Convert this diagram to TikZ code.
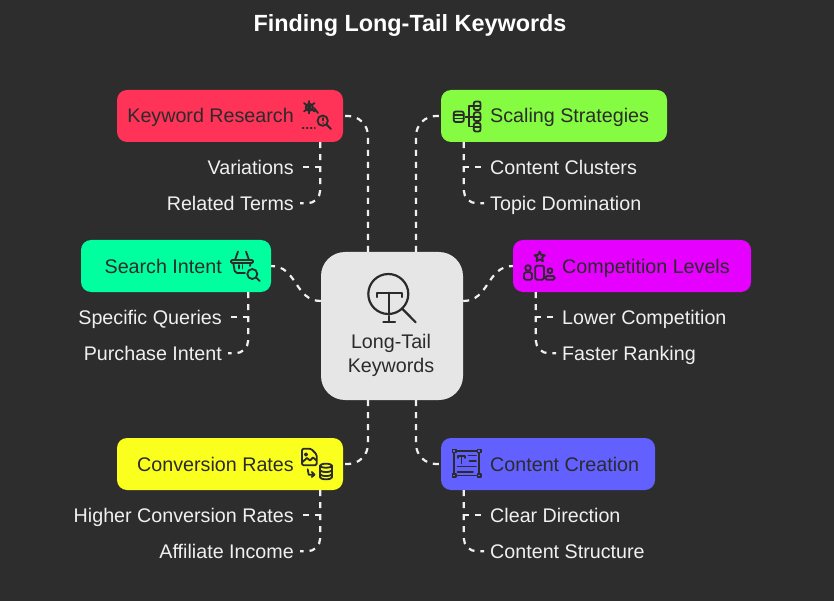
\documentclass[tikz,border=0pt]{standalone}
\usepackage{fontspec}
\setmainfont{Liberation Sans}
\definecolor{bgc}{HTML}{2D2D2D}
\definecolor{inkc}{HTML}{2B2B2B}
\definecolor{paleC}{HTML}{F0F0F0}
\definecolor{hubc}{HTML}{E6E6E6}
\definecolor{redc}{HTML}{FF3358}
\definecolor{limec}{HTML}{85FB41}
\definecolor{mintc}{HTML}{00FF9F}
\definecolor{magc}{HTML}{E600FF}
\definecolor{yelc}{HTML}{FAFF1E}
\definecolor{bluc}{HTML}{6260FF}
\begin{document}
\begin{tikzpicture}[x=1pt,y=-1pt,topic/.style={shape=rectangle,rounded corners=10pt,minimum height=52pt,inner sep=0pt},toptxt/.style={text=inkc,font=\fontsize{19.7}{24}\selectfont,inner sep=0pt,text height=14pt,text depth=0pt},leaf/.style={text=paleC,font=\fontsize{19.7}{24}\selectfont,inner ysep=0pt,inner xsep=6pt,text height=14pt,text depth=0pt},link/.style={draw=paleC,line width=2.2pt,dash pattern=on 6pt off 6pt},linkL/.style={link,rounded corners=20pt},linkS/.style={link,rounded corners=13pt},glyph/.style={draw=inkc,line width=1.8pt,line cap=round,line join=round}]
\fill[bgc] (0,0) rectangle (834,601);

\node[font=\bfseries\fontsize{23.4}{28}\selectfont,text=white,inner sep=0pt] (title) at (410,26) {Finding Long-Tail Keywords};

\node[shape=rectangle,rounded corners=24pt,fill=hubc,minimum width=142pt,minimum height=148pt] (hub) at (392,326) {};
\node[text=inkc,font=\fontsize{19.7}{24}\selectfont,align=center,inner sep=0pt] (hubtxt) at (391,355) {Long-Tail\\Keywords};

\node[topic,fill=redc,minimum width=226pt] (kw) at (230,116) {};
\node[toptxt,anchor=east] (kwtxt) at (294,116) {Keyword Research};
\node[leaf,anchor=east] (var) at (300,167.3) {Variations};
\node[leaf,anchor=east] (rel) at (300,203.3) {Related Terms};

\node[topic,fill=limec,minimum width=226pt] (sc) at (554,116) {};
\node[toptxt,anchor=west] (sctxt) at (490,116) {Scaling Strategies};
\node[leaf,anchor=west] (clu) at (484,167.3) {Content Clusters};
\node[leaf,anchor=west] (dom) at (484,203.3) {Topic Domination};

\node[topic,fill=mintc,minimum width=190pt] (si) at (176,266) {};
\node[toptxt,anchor=east] (sitxt) at (222,266) {Search Intent};
\node[leaf,anchor=east] (que) at (228,317.3) {Specific Queries};
\node[leaf,anchor=east] (pur) at (228,353.3) {Purchase Intent};

\node[topic,fill=magc,minimum width=238pt] (co) at (632,266) {};
\node[toptxt,anchor=west] (cotxt) at (562,266) {Competition Levels};
\node[leaf,anchor=west] (low) at (556,317.3) {Lower Competition};
\node[leaf,anchor=west] (fas) at (556,353.3) {Faster Ranking};

\node[topic,fill=yelc,minimum width=226pt] (cv) at (230,464) {};
\node[toptxt,anchor=east] (cvtxt) at (294,464) {Conversion Rates};
\node[leaf,anchor=east] (hig) at (300,515.3) {Higher Conversion Rates};
\node[leaf,anchor=east] (aff) at (300,551.3) {Affiliate Income};

\node[topic,fill=bluc,minimum width=214pt] (cc) at (548,464) {};
\node[toptxt,anchor=west] (cctxt) at (490,464) {Content Creation};
\node[leaf,anchor=west] (cle) at (484,515.3) {Clear Direction};
\node[leaf,anchor=west] (str) at (484,551.3) {Content Structure};

\draw[linkL] ([xshift=-24pt]hub.north) |- (kw.east);
\draw[linkL] ([xshift=24pt]hub.north) |- (sc.west);
\draw[linkL] ([xshift=-24pt]hub.south) |- (cv.east);
\draw[linkL] ([xshift=24pt]hub.south) |- (cc.west);
\draw[link] ([yshift=25pt]hub.west) to[out=180,in=0,looseness=1.1] (si.east);
\draw[link] ([yshift=25pt]hub.east) to[out=0,in=180,looseness=1.1] (co.west);

\draw[link] ([xshift=-23pt]kw.south east) |- (var.east);
\draw[linkS] ([xshift=-23pt]kw.south east) |- (rel.east);
\draw[link] ([xshift=23pt]sc.south west) |- (clu.west);
\draw[linkS] ([xshift=23pt]sc.south west) |- (dom.west);
\draw[link] ([xshift=-23pt]si.south east) |- (que.east);
\draw[linkS] ([xshift=-23pt]si.south east) |- (pur.east);
\draw[link] ([xshift=23pt]co.south west) |- (low.west);
\draw[linkS] ([xshift=23pt]co.south west) |- (fas.west);
\draw[link] ([xshift=-23pt]cv.south east) |- (hig.east);
\draw[linkS] ([xshift=-23pt]cv.south east) |- (aff.east);
\draw[link] ([xshift=23pt]cc.south west) |- (cle.west);
\draw[linkS] ([xshift=23pt]cc.south west) |- (str.west);

\draw[glyph,line width=2.2pt] (388.3,294) circle (20pt);
\draw[glyph,line width=2.2pt] (402,308.5) -- (415.7,322.3);
\draw[glyph,line width=2.2pt] (376.7,297) -- (376.7,292.7) -- (401.7,292.7) -- (401.7,297);
\draw[glyph,line width=2.2pt] (389.3,292.7) -- (389.3,312.7);
\draw[glyph,line width=2.2pt] (389.3,316) -- (389.3,321.7) (383.3,321.7) -- (395,321.7);

\draw[glyph] (309.3,107.3) circle (3.6pt);
\draw[glyph] (304,103) -- (314.5,111.5) (304,111.5) -- (314.5,103) (309,101) -- (309,113.5) (314,108) -- (318,113);
\draw[glyph] (322.7,120.7) circle (5.2pt);
\draw[glyph] (326.5,124.5) -- (331,129);
\draw[glyph,line width=1.2pt] (323,118) -- (323,120.5) (323,123) -- (323,123.2);
\draw[glyph,dash pattern=on 1pt off 3pt] (302.7,128.3) -- (315,128.3);

\draw[glyph,rounded corners=2pt] (453.7,111.5) rectangle (463.7,122);
\draw[glyph] (453.7,115) -- (463.7,115) (453.7,118.5) -- (463.7,118.5);
\draw[glyph] (474,105.7) -- (469.3,105.7) -- (469.3,126.5) -- (474,126.5) (465.5,116.7) -- (473.5,116.7);
\draw[glyph,rounded corners=2pt] (473.8,101.5) rectangle (480.5,110);
\draw[glyph] (473.8,105.7) -- (480.5,105.7);
\draw[glyph,rounded corners=2pt] (473.8,112.3) rectangle (480.5,121);
\draw[glyph] (473.8,116.7) -- (480.5,116.7);
\draw[glyph,rounded corners=2pt] (473.8,123) rectangle (480.5,131.5);
\draw[glyph] (473.8,127.3) -- (480.5,127.3);

\draw[glyph,rounded corners=1.5pt] (230.7,260) rectangle (253.3,263);
\draw[glyph] (235,260) -- (238,251.5) (249,260) -- (246,251.5);
\draw[glyph,rounded corners=2pt] (233.3,263) -- (235,273) -- (245,273);
\draw[glyph] (250.5,263) -- (250,266);
\draw[glyph] (239,265) -- (239,268.5) (242.5,265) -- (242.5,268.5);
\draw[glyph] (252.3,274) circle (5pt);
\draw[glyph] (256,277.5) -- (259.7,281);

\draw[glyph] (539.7,251.5) -- (541.2,254.8) -- (544.8,255.2) -- (542.1,257.6) -- (542.9,261.2) -- (539.7,259.4) -- (536.5,261.2) -- (537.3,257.6) -- (534.6,255.2) -- (538.2,254.8) -- cycle;
\draw[glyph,rounded corners=1.5pt] (535.3,265.7) rectangle (544,279.7);
\draw[glyph] (528,268) circle (2.8pt);
\draw[glyph,rounded corners=1.5pt] (524,272.3) rectangle (532,279.7);
\draw[glyph] (550,270.7) circle (2.4pt);
\draw[glyph,rounded corners=1.5pt] (545.3,276) rectangle (554.7,279.7);

\draw[glyph,rounded corners=1.5pt] (302,448.7) -- (311,448.7) -- (316.7,454.5) -- (316.7,465.3) -- (302,465.3) -- cycle;
\draw[glyph] (306,454.5) circle (1.2pt);
\draw[glyph] (302.5,462) -- (307,458) -- (310,460.5) -- (313,457.5) -- (316.5,460.5);
\draw[glyph] (307.7,469.3) -- (308.7,474.7) -- (314.3,474.7) (311.8,472) -- (314.5,474.7) -- (311.8,477);
\draw[glyph] (320,465.7) -- (320,477.3) arc[start angle=180,end angle=360,x radius=6pt,y radius=2pt] -- (332,465.7);
\draw[glyph] (326,465.7) ellipse (6pt and 2pt);
\draw[glyph] (320,470) arc[start angle=180,end angle=360,x radius=6pt,y radius=2pt];
\draw[glyph] (320,474) arc[start angle=180,end angle=360,x radius=6pt,y radius=2pt];

\draw[glyph] (454.3,451) rectangle (479.3,475.5);
\draw[glyph,fill=bluc,line width=1.5pt] (452.6,449.3) rectangle (456,452.7);
\draw[glyph,fill=bluc,line width=1.5pt] (477.6,449.3) rectangle (481,452.7);
\draw[glyph,fill=bluc,line width=1.5pt] (452.6,473.8) rectangle (456,477.2);
\draw[glyph,fill=bluc,line width=1.5pt] (477.6,473.8) rectangle (481,477.2);
\draw[glyph] (457.7,458) -- (457.7,456) -- (465.3,456) -- (465.3,458) (461.5,456) -- (461.5,463.5);
\draw[glyph] (468.5,455.5) -- (476,455.5) (469.5,461) -- (476,461) (457.5,466.5) -- (476,466.5) (457.5,471.7) -- (473,471.7);
\end{tikzpicture}
\end{document}
